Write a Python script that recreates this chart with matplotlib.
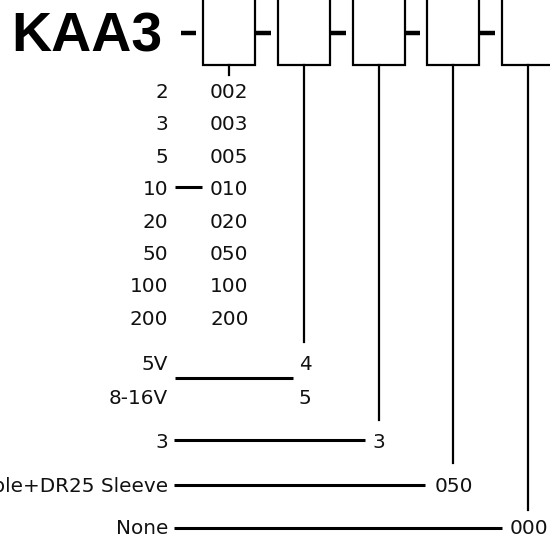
import matplotlib.pyplot as plt

# Ordering code: KAA3 - range - supply - output - cable - option
title = "KAA3"
range_labels = ["2", "3", "5", "10", "20", "50", "100", "200"]
range_codes = ["002", "003", "005", "010", "020", "050", "100", "200"]
supply_labels = ["5V", "8-16V"]
supply_codes = ["4", "5"]
output_labels = ["3"]
output_codes = ["3"]
cable_labels = ["Cable+DR25 Sleeve"]
cable_codes = ["050"]
option_labels = ["None"]
option_codes = ["000"]

ink = "#111111"
fs = 14.4

fig = plt.figure(figsize=(5.5, 5.34), dpi=100)
ax = fig.add_axes([0, 0, 1, 1])
ax.set_xlim(0, 550)
ax.set_ylim(534, 0)
ax.axis("off")

# title and code boxes
ax.text(11, 51, title, fontsize=40, fontweight="bold", family="Liberation Sans",
        color="black", ha="left", va="baseline")

box_left = [203, 278, 353, 427, 502]
box_w = 52
box_bottom = 65
stem_end = [75, 342, 420, 463, 510]
for x0, y1 in zip(box_left, stem_end):
    ax.plot([x0, x0, x0 + box_w, x0 + box_w], [-5, box_bottom, box_bottom, -5],
            color="black", lw=1.6, solid_joinstyle="miter")
    ax.plot([x0 - 22, x0 - 7], [33, 33], color="black", lw=3.2, solid_capstyle="butt")
    xm = x0 + box_w / 2
    ax.plot([xm, xm], [box_bottom, y1], color="black", lw=1.6)


def label(x, y, s, ha):
    ax.text(x, y, s, fontsize=fs, color=ink, ha=ha, va="baseline", family="DejaVu Sans")


def hline(x0, x1, y):
    ax.plot([x0, x1], [y, y], color="black", lw=2.2, solid_capstyle="butt")


# measuring range
base = 98
step = 32.4
for i, (lab, code) in enumerate(zip(range_labels, range_codes)):
    y = base + i * step
    label(168, y, lab, "right")
    label(210, y, code, "left")
hline(175, 202, 187)

# supply voltage
for i, (lab, code) in enumerate(zip(supply_labels, supply_codes)):
    y = 370 + i * 34
    label(168, y, lab, "right")
    label(305, y, code, "center")
hline(175, 293, 378)

# output
label(168, 448, output_labels[0], "right")
label(379, 448, output_codes[0], "center")
hline(174, 365, 440)

# cable
label(168, 492, cable_labels[0], "right")
label(435, 492, cable_codes[0], "left")
hline(174, 425, 485)

# option
label(168, 534, option_labels[0], "right")
label(510, 534, option_codes[0], "left")
hline(174, 502, 528)

fig.savefig("out.png", dpi=100)
